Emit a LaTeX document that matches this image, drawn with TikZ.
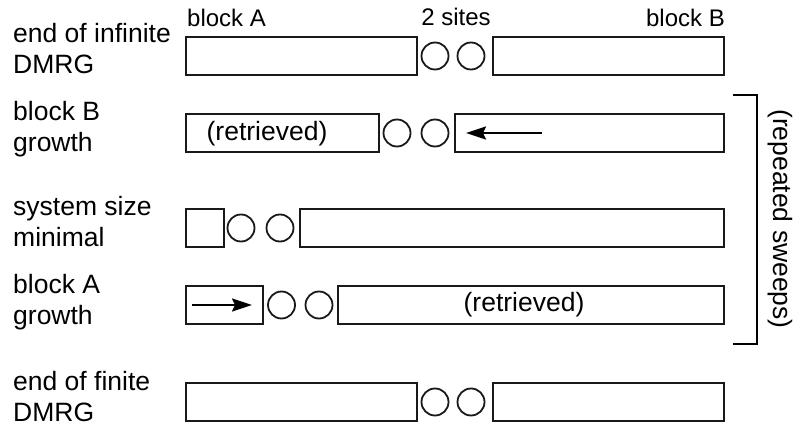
\documentclass[tikz,border=0pt]{standalone}
\usepackage{fontspec}
\setmainfont{Liberation Sans}
\usetikzlibrary{arrows.meta}
\begin{document}
\begin{tikzpicture}[x=1pt,y=-1pt,
  blk/.style={draw=black!90,line width=2pt,rectangle,inner sep=0pt,minimum height=38pt},
  site/.style={draw=black!90,line width=1.8pt,circle,inner sep=0pt,minimum size=27pt},
  lbl/.style={font=\fontsize{26.5}{31}\selectfont,align=left,anchor=south west,inner sep=0pt,text depth=0pt},
  toplbl/.style={font=\fontsize{24}{28}\selectfont,inner sep=0pt},
  txt/.style={font=\fontsize{26.5}{31}\selectfont,inner sep=0pt},
  arr/.style={line width=1.8pt,-{Stealth[length=20pt,width=13pt,inset=3pt]}}]
\useasboundingbox (0,0) rectangle (794,427);

% top labels
\node[toplbl,anchor=base west] (tA) at (187,27) {block A};
\node[toplbl,anchor=base] (tS) at (456,26) {2 sites};
\node[toplbl,anchor=base east] (tB) at (725,27) {block B};

% row 1
\node[lbl] (l1) at (13,74) {end of infinite\\DMRG};
\node[blk,minimum width=231pt] (r1a) at (301.5,56) {};
\node[site] (r1s1) at (435,56) {};
\node[site] (r1s2) at (471,56) {};
\node[blk,minimum width=231pt] (r1b) at (608.5,56) {};

% row 2
\node[lbl] (l2) at (13,152) {block B\\growth};
\node[blk,minimum width=193pt] (r2a) at (282.5,133) {};
\node[txt] (r2t) at (267,134) {(retrieved)};
\node[site] (r2s1) at (397,133) {};
\node[site] (r2s2) at (435,133) {};
\node[blk,minimum width=269pt] (r2b) at (589.5,133) {};
\coordinate (a2s) at (542,133);
\coordinate (a2e) at (466,133);
\draw[arr] (a2s) -- (a2e);

% row 3
\node[lbl] (l3) at (13,247) {system size\\minimal};
\node[blk,minimum width=38pt] (r3a) at (205,228) {};
\node[site] (r3s1) at (241,228) {};
\node[site] (r3s2) at (280,228) {};
\node[blk,minimum width=424pt] (r3b) at (512,228) {};

% row 4
\node[lbl] (l4) at (13,325) {block A\\growth};
\node[blk,minimum width=77pt] (r4a) at (224.5,305) {};
\coordinate (a4s) at (192,305);
\coordinate (a4e) at (252,305);
\draw[arr] (a4s) -- (a4e);
\node[site] (r4s1) at (281.5,305) {};
\node[site] (r4s2) at (319,305) {};
\node[blk,minimum width=386pt] (r4b) at (531,305) {};
\node[txt] (r4t) at (524,305) {(retrieved)};

% row 5
\node[lbl] (l5) at (13,422) {end of finite\\DMRG};
\node[blk,minimum width=231pt] (r5a) at (301.5,402) {};
\node[site] (r5s1) at (435,402) {};
\node[site] (r5s2) at (471,402) {};
\node[blk,minimum width=231pt] (r5b) at (608.5,402) {};

% bracket
\coordinate (bt) at (733,95);
\coordinate (bb) at (733,344);
\draw[line width=1.7pt] (bt) -- ++(24,0) |- (bb);
\node[txt,rotate=-90] (sw) at (780,219) {(repeated sweeps)};
\end{tikzpicture}
\end{document}
